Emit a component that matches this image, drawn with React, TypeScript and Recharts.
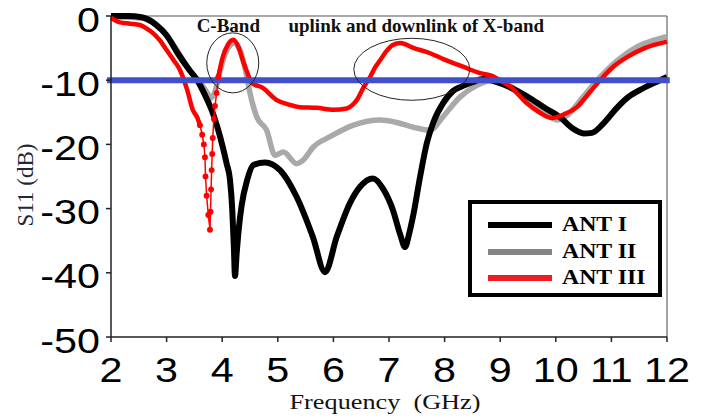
import React from 'react';
import { LineChart, Line, XAxis, YAxis, ReferenceLine, ReferenceDot, Legend } from 'recharts';

const freqTicks = [2, 3, 4, 5, 6, 7, 8, 9, 10, 11, 12];
const s11Ticks = [-50, -40, -30, -20, -10, 0];
const seriesNames = ['ANT I', 'ANT II', 'ANT III'];
const seriesColors = ['#000000', '#a9a9a9', '#ff0000'];
const legendColors = ['#000000', '#858585', '#ee1c24'];

// ANT I
const ant1Freq = [2.0, 2.3, 2.55, 2.8, 3.0, 3.2, 3.4, 3.55, 3.7, 3.83, 3.92, 4.01, 4.08, 4.14, 4.18, 4.21, 4.23, 4.26, 4.3, 4.35, 4.45, 4.56, 4.77, 5.04, 5.34, 5.63, 5.85, 6.06, 6.3, 6.48, 6.71, 6.9, 7.07, 7.2, 7.29, 7.36, 7.43, 7.56, 7.68, 7.8, 7.97, 8.15, 8.3, 8.5, 8.7, 8.9, 9.2, 9.48, 9.8, 10.08, 10.3, 10.5, 10.65, 10.85, 11.1, 11.28, 11.5, 11.75, 12.0];
const ant1S11 = [0, 0, -0.2, -1.3, -3.0, -5.8, -8.3, -10, -12.5, -15.1, -17.5, -20.4, -23, -25.5, -30, -36, -40.5, -37, -33, -29.5, -25.5, -23.2, -22.8, -24, -28.2, -34.4, -39.9, -34.4, -29.1, -26.6, -25.3, -27, -30.2, -34, -36, -34, -31.3, -25, -19.8, -16.5, -13.6, -11.7, -11, -10.3, -9.8, -10.2, -11.2, -12.5, -14.3, -15.8, -17.5, -18.3, -18.2, -16.8, -14.3, -12.8, -11.6, -10.5, -9.5];

// ANT II
const ant2Freq = [2.0, 2.3, 2.5, 2.7, 2.9, 3.06, 3.2, 3.37, 3.6, 3.72, 3.8, 3.88, 3.95, 4.05, 4.15, 4.22, 4.32, 4.42, 4.5, 4.62, 4.8, 4.95, 5.1, 5.34, 5.45, 5.64, 5.94, 6.36, 6.84, 7.1, 7.43, 7.74, 7.97, 8.28, 8.58, 8.87, 9.2, 9.5, 9.8, 10.02, 10.2, 10.5, 10.8, 11.1, 11.46, 11.75, 12.0];
const ant2S11 = [-0.2, -0.2, -0.3, -0.6, -2.0, -3.7, -5.5, -8.0, -10.3, -11.8, -12.8, -11.5, -9.0, -6.0, -4.5, -4.2, -5.3, -8.5, -12, -15.7, -17.8, -21.7, -21.2, -23, -22.5, -20.4, -18.8, -17, -16.2, -16.5, -17.3, -17.8, -15.7, -12.6, -10.8, -10.0, -11.0, -13.0, -15.0, -16.2, -15.5, -12.5, -9.5, -7.0, -4.8, -3.8, -3.2];

// ANT III (main trace, before and after the sharp notch)
const ant3LeftFreq = [2.0, 2.16, 2.35, 2.52, 2.65, 2.76, 2.88, 3.0, 3.12, 3.24, 3.37, 3.47, 3.55, 3.6];
const ant3LeftS11 = [-0.3, -1.0, -1.2, -1.4, -2.0, -2.7, -3.8, -5.3, -6.8, -8.4, -11.5, -14.6, -15.8, -17.0];
const ant3NotchFreq = [3.6, 3.64, 3.67, 3.69, 3.7, 3.72, 3.75, 3.78, 3.79, 3.8, 3.81, 3.82, 3.83, 3.85, 3.87, 3.9, 3.93];
const ant3NotchS11 = [-17.0, -18.5, -20, -22, -25, -28, -31, -33.3, -30.5, -27, -24, -21.5, -19, -16, -14, -12, -9.5];
const ant3RightFreq = [3.93, 4.01, 4.1, 4.2, 4.3, 4.37, 4.45, 4.53, 4.73, 4.98, 5.2, 5.4, 5.7, 6.0, 6.24, 6.35, 6.42, 6.55, 6.66, 6.75, 6.84, 6.95, 7.07, 7.2, 7.45, 7.74, 8.0, 8.33, 8.64, 8.87, 9.05, 9.18, 9.48, 9.7, 9.93, 10.15, 10.38, 10.6, 10.85, 11.05, 11.28, 11.6, 12.0];
const ant3RightS11 = [-9.5, -6.4, -4.5, -3.7, -5.0, -6.9, -8.8, -10.4, -11.2, -13.1, -13.8, -14.2, -14.3, -14.6, -14.4, -13.8, -13.1, -11.0, -9.5, -8.0, -6.9, -5.5, -4.5, -4.2, -5.0, -5.8, -6.8, -7.9, -8.9, -9.4, -10.3, -11.0, -13.6, -15.0, -15.9, -15.3, -14.2, -12.0, -9.5, -7.8, -6.4, -5.0, -4.0];

const zip = (f: number[], v: number[]) => f.map((x, i) => ({ f: x, s: v[i] }));
const ant1 = zip(ant1Freq, ant1S11);
const ant2 = zip(ant2Freq, ant2S11);
const ant3Left = zip(ant3LeftFreq, ant3LeftS11);
const ant3Notch = zip(ant3NotchFreq, ant3NotchS11);
const ant3Right = zip(ant3RightFreq, ant3RightS11);

const XTick = (props: any) => {
  const { x, y, payload } = props;
  return (
    <text
      transform={`translate(${x},${y}) scale(1.18,1)`}
      x={0}
      y={40}
      textAnchor="middle"
      fontFamily="'Liberation Sans', Arial, sans-serif"
      fontSize={35}
      fill="#000"
    >
      {payload.value}
    </text>
  );
};

const YTick = (props: any) => {
  const { x, y, payload } = props;
  return (
    <text
      transform={`translate(${x},${y}) scale(1.18,1)`}
      x={0}
      y={15.5}
      textAnchor="end"
      fontFamily="'Liberation Sans', Arial, sans-serif"
      fontSize={35}
      fill="#000"
    >
      {payload.value}
    </text>
  );
};

const LegendBox = () => (
  <div
    style={{
      position: 'relative',
      width: 194,
      height: 97,
      border: '4px solid #000',
      boxSizing: 'border-box',
      background: '#fff',
    }}
  >
    {seriesNames.map((name, i) => (
      <div key={name}>
        <div
          style={{
            position: 'absolute',
            left: 16,
            top: 21 + i * 26.5 - 3,
            width: 64,
            height: 6,
            background: legendColors[i],
          }}
        />
        <div
          style={{
            position: 'absolute',
            left: 90,
            top: 21 + i * 26.5 - 14,
            fontFamily: "'Liberation Serif', 'Times New Roman', serif",
            fontWeight: 'bold',
            fontSize: 22,
            lineHeight: '26px',
            color: '#000',
            whiteSpace: 'nowrap',
            transform: 'scaleX(1.08)',
            transformOrigin: 'left center',
          }}
        >
          {name}
        </div>
      </div>
    ))}
  </div>
);

const ellipseShape = (rx: number, ry: number) => (p: any) => (
  <ellipse cx={p.cx} cy={p.cy} rx={rx} ry={ry} fill="none" stroke="#222" strokeWidth={1} />
);

const textShape = (label: string) => (p: any) => (
  <text
    x={p.cx}
    y={p.cy}
    textAnchor="middle"
    fontFamily="'Liberation Serif', 'Times New Roman', serif"
    fontWeight="bold"
    fontSize={19}
    fill="#111"
  >
    {label}
  </text>
);

const xLabel = (p: any) => {
  const vb = p.viewBox || { x: 111, y: 337, width: 556 };
  const cx = vb.x + vb.width / 2 - 4;
  return (
    <text
      transform={`translate(${cx},${vb.y + 72}) scale(1.25,1)`}
      x={0}
      y={0}
      textAnchor="middle"
      fontFamily="'Liberation Serif', 'Times New Roman', serif"
      fontSize={21}
      fill="#111"
      style={{ whiteSpace: 'pre' }}
    >
      {'Frequency  (GHz)'}
    </text>
  );
};

const yLabel = () => (
  <text
    transform="translate(25,185) rotate(-90)"
    x={0}
    y={0}
    textAnchor="middle"
    dominantBaseline="central"
    fontFamily="'Liberation Serif', 'Times New Roman', serif"
    fontSize={23}
    fill="#1f2a38"
  >
    S11 (dB)
  </text>
);

export default function App() {
  return (
    <div style={{ position: 'absolute', left: 0, top: 0, width: 709, height: 418, background: '#fff' }}>
      <LineChart width={709} height={418} margin={{ top: 16, right: 42, bottom: 21, left: 0 }}>
        <XAxis
          type="number"
          dataKey="f"
          domain={[2, 12]}
          ticks={freqTicks}
          allowDuplicatedCategory={false}
          height={60}
          tickSize={5}
          tickMargin={0}
          tick={<XTick />}
          axisLine={{ stroke: '#222', strokeWidth: 1.5 }}
          tickLine={{ stroke: '#222', strokeWidth: 1.5 }}
          label={{ content: xLabel }}
        />
        <YAxis
          type="number"
          dataKey="s"
          domain={[-50, 0]}
          ticks={s11Ticks}
          width={111}
          tickSize={5}
          tickMargin={6}
          tick={<YTick />}
          axisLine={{ stroke: '#222', strokeWidth: 1.5 }}
          tickLine={{ stroke: '#222', strokeWidth: 1.5 }}
          label={{ content: yLabel }}
        />
        <ReferenceLine y={0} stroke="#555" strokeWidth={1.2} />
        <ReferenceLine x={12} stroke="#666" strokeWidth={1.2} />
        <Line data={ant2} dataKey="s" type="monotoneX" stroke={seriesColors[1]} strokeWidth={5.5} dot={false} isAnimationActive={false} name={seriesNames[1]} />
        <Line data={ant1} dataKey="s" type="monotoneX" stroke={seriesColors[0]} strokeWidth={6} dot={false} isAnimationActive={false} name={seriesNames[0]} />
        <Line data={ant3Left} dataKey="s" type="monotoneX" stroke={seriesColors[2]} strokeWidth={4.5} dot={false} isAnimationActive={false} name={seriesNames[2]} legendType="none" />
        <Line data={ant3Notch} dataKey="s" type="linear" stroke={seriesColors[2]} strokeWidth={1.5} dot={{ r: 2.2, fill: '#ff0000', stroke: '#ff0000' }} isAnimationActive={false} legendType="none" />
        <Line data={ant3Right} dataKey="s" type="monotoneX" stroke={seriesColors[2]} strokeWidth={4.5} dot={false} isAnimationActive={false} legendType="none" />
        <ReferenceLine
          segment={[{ x: 1.93, y: -10 }, { x: 12.05, y: -10 }]}
          ifOverflow="visible"
          stroke="#4150c8"
          strokeWidth={6}
        />
        <ReferenceDot x={4.19} y={-7.3} r={1} ifOverflow="visible" shape={ellipseShape(26, 30)} />
        <ReferenceDot x={7.41} y={-8.3} r={1} ifOverflow="visible" shape={ellipseShape(58, 31)} />
        <ReferenceDot x={4.11} y={-2.5} r={1} ifOverflow="visible" shape={textShape('C-Band')} />
        <ReferenceDot x={7.49} y={-2.5} r={1} ifOverflow="visible" shape={textShape('uplink and downlink of X-band')} />
        <Legend
          layout="vertical"
          align="center"
          verticalAlign="middle"
          content={() => <LegendBox />}
          wrapperStyle={{ position: 'absolute', left: 468, top: 200, width: 194, height: 97 }}
        />
      </LineChart>
    </div>
  );
}
